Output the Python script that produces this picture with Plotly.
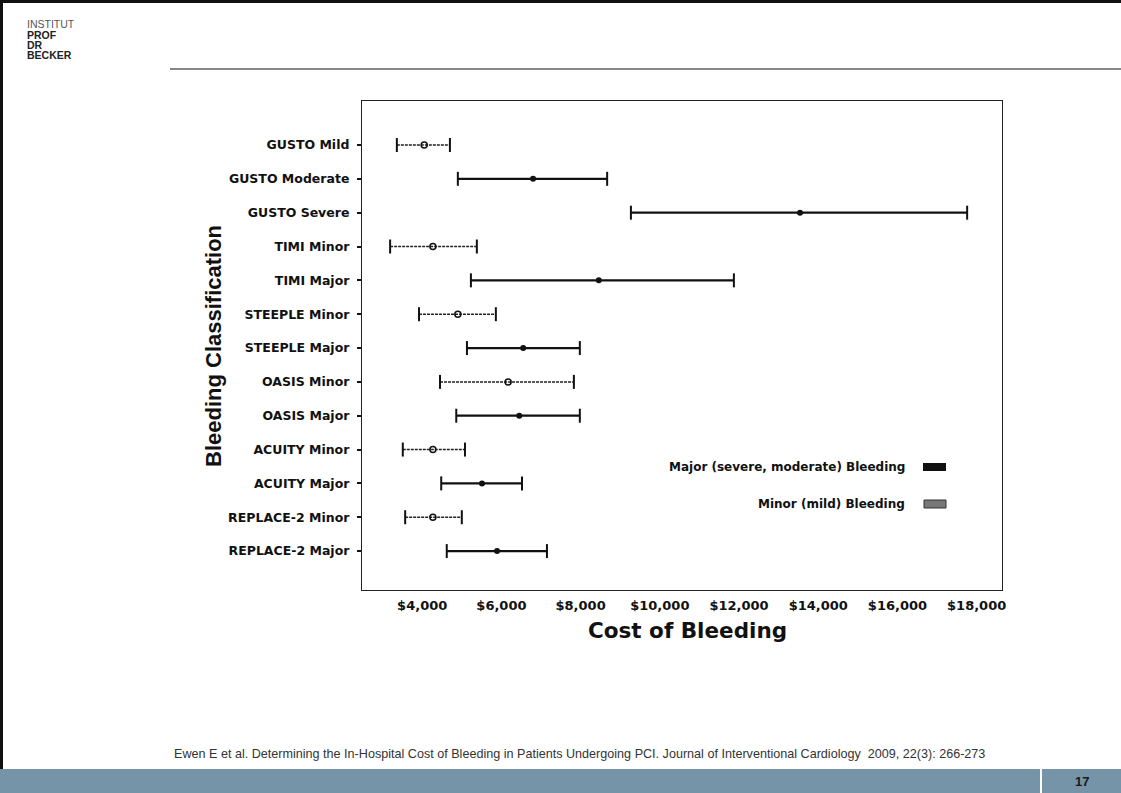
import plotly.graph_objects as go

# Bleeding classes, top to bottom, with mean cost and 95% interval ($)
categories = [
    "GUSTO Mild", "GUSTO Moderate", "GUSTO Severe",
    "TIMI Minor", "TIMI Major",
    "STEEPLE Minor", "STEEPLE Major",
    "OASIS Minor", "OASIS Major",
    "ACUITY Minor", "ACUITY Major",
    "REPLACE-2 Minor", "REPLACE-2 Major",
]
mean_cost = [4050, 6800, 13540, 4270, 8460, 4900, 6550, 6170, 6450, 4270, 5510, 4270, 5890]
low_cost = [3360, 4900, 9270, 3190, 5230, 3920, 5130, 4450, 4860, 3510, 4480, 3570, 4620]
high_cost = [4700, 8670, 17760, 5380, 11870, 5860, 7980, 7830, 7980, 5080, 6520, 5000, 7150]
is_minor = [True, False, False, True, False, True, False, True, False, True, False, True, False]

x_ticks = [4000, 6000, 8000, 10000, 12000, 14000, 16000, 18000]
x_tick_text = ["$4,000", "$6,000", "$8,000", "$10,000", "$12,000", "$14,000", "$16,000", "$18,000"]

W, H = 1121, 793
L, R, T, B = 362, 1002, 101, 590


def segments(minor_flag):
    xs, ys = [], []
    for c, lo, hi, m in zip(categories, low_cost, high_cost, is_minor):
        if m == minor_flag:
            xs += [lo, hi, None]
            ys += [c, c, None]
    return xs, ys


fig = go.Figure()

# interval lines
mx, my = segments(False)
fig.add_trace(go.Scatter(x=mx, y=my, mode="lines", line=dict(color="#111", width=2.2),
                         hoverinfo="skip", showlegend=False))
nx, ny = segments(True)
fig.add_trace(go.Scatter(x=nx, y=ny, mode="lines", line=dict(color="#222", width=1.5, dash="3px,1px"),
                         hoverinfo="skip", showlegend=False))

# end caps
fig.add_trace(go.Scatter(
    x=low_cost + high_cost, y=categories + categories, mode="markers",
    marker=dict(symbol="line-ns", size=10, line=dict(color="#111", width=2)),
    hoverinfo="skip", showlegend=False))

# mean markers: filled for major, open for minor
fig.add_trace(go.Scatter(
    x=[v for v, m in zip(mean_cost, is_minor) if not m],
    y=[c for c, m in zip(categories, is_minor) if not m],
    mode="markers", marker=dict(symbol="circle", size=6, color="#111"),
    showlegend=False))
fig.add_trace(go.Scatter(
    x=[v for v, m in zip(mean_cost, is_minor) if m],
    y=[c for c, m in zip(categories, is_minor) if m],
    mode="markers", marker=dict(symbol="circle-open", size=6, color="#111", line=dict(width=1.5)),
    showlegend=False))

label_font = dict(family="DejaVu Sans, Liberation Sans, sans-serif", color="#111", weight="bold")

fig.update_layout(
    width=W, height=H,
    margin=dict(l=L, r=W - R, t=T, b=H - B),
    paper_bgcolor="white", plot_bgcolor="white",
    xaxis=dict(
        range=[2480, 18640], tickvals=x_ticks, ticktext=x_tick_text,
        tickfont=dict(label_font, size=13), ticks="", ticklabelstandoff=3,
        showgrid=False, zeroline=False, showline=True, linecolor="#222", linewidth=1.2, mirror=True,
    ),
    yaxis=dict(
        type="category", categoryorder="array", categoryarray=categories,
        range=[13.15, -1.3],
        tickfont=dict(label_font, size=12.5), ticks="outside", ticklen=4, tickwidth=1.5,
        tickcolor="#111", ticklabelstandoff=5,
        showgrid=False, zeroline=False, showline=True, linecolor="#222", linewidth=1.2, mirror=True,
    ),
)


def px(xp):
    return (xp - L) / (R - L)


def py(yp):
    return (B - yp) / (B - T)


ann = []
# axis titles
ann.append(dict(text="Cost of Bleeding", x=px(687), y=py(630), xref="paper", yref="paper",
                showarrow=False, xanchor="center", yanchor="middle",
                font=dict(label_font, size=21.5)))
ann.append(dict(text="Bleeding Classification", x=px(213), y=py(346), xref="paper", yref="paper",
                showarrow=False, xanchor="center", yanchor="middle", textangle=-90,
                font=dict(family="Liberation Sans, Arial, sans-serif", size=22, color="#111", weight="bold")))
# key
ann.append(dict(text="Major (severe, moderate) Bleeding", x=px(907), y=py(467), xref="paper", yref="paper",
                showarrow=False, xanchor="right", yanchor="middle",
                font=dict(label_font, size=12)))
ann.append(dict(text="Minor (mild) Bleeding", x=px(907), y=py(504), xref="paper", yref="paper",
                showarrow=False, xanchor="right", yanchor="middle",
                font=dict(label_font, size=12)))
# logo
logo = [("INSTITUT", 24, "normal", "#555"), ("PROF", 35, "bold", "#222"),
        ("DR", 45, "bold", "#222"), ("BECKER", 55, "bold", "#222")]
for txt, yy, wt, col in logo:
    ann.append(dict(text=txt, x=px(25), y=py(yy), xref="paper", yref="paper", showarrow=False,
                    xanchor="left", yanchor="middle", height=10,
                    font=dict(family="Liberation Sans, sans-serif", size=10.5, color=col, weight=wt)))
# citation
ann.append(dict(text="Ewen E et al. Determining the In-Hospital Cost of Bleeding in Patients Undergoing PCI. "
                     "Journal of Interventional Cardiology  2009, 22(3): 266-273",
                x=px(172), y=py(754), xref="paper", yref="paper", showarrow=False,
                xanchor="left", yanchor="middle",
                font=dict(family="Liberation Sans, sans-serif", size=12.6, color="#333")))
# page number
ann.append(dict(text="<b>17</b>", x=px(1082), y=py(781), xref="paper", yref="paper", showarrow=False,
                xanchor="center", yanchor="middle",
                font=dict(family="Liberation Sans, sans-serif", size=13, color="#1a1a1a")))
fig.update_layout(annotations=ann)

shapes = []
# header rule
shapes.append(dict(type="line", xref="paper", yref="paper", x0=px(170), x1=px(W), y0=py(69), y1=py(69),
                   line=dict(color="#111", width=1.2)))
# page border (left and top)
shapes.append(dict(type="line", xref="paper", yref="paper", x0=px(1.5), x1=px(1.5), y0=py(0), y1=py(769),
                   line=dict(color="#111", width=3)))
shapes.append(dict(type="line", xref="paper", yref="paper", x0=px(0), x1=px(W), y0=py(1.5), y1=py(1.5),
                   line=dict(color="#111", width=3)))
# footer band
shapes.append(dict(type="rect", xref="paper", yref="paper", x0=px(0), x1=px(W), y0=py(769), y1=py(H),
                   fillcolor="#7594a7", line=dict(width=0), layer="below"))
shapes.append(dict(type="line", xref="paper", yref="paper", x0=px(1041), x1=px(1041), y0=py(769), y1=py(H),
                   line=dict(color="white", width=2)))
# key swatches
shapes.append(dict(type="rect", xref="paper", yref="paper", x0=px(923), x1=px(946), y0=py(471), y1=py(463),
                   fillcolor="#111", line=dict(width=0)))
shapes.append(dict(type="rect", xref="paper", yref="paper", x0=px(924), x1=px(946), y0=py(508), y1=py(500),
                   fillcolor="#777", line=dict(color="#333", width=1)))
fig.update_layout(shapes=shapes)

fig.write_html("out.html")
